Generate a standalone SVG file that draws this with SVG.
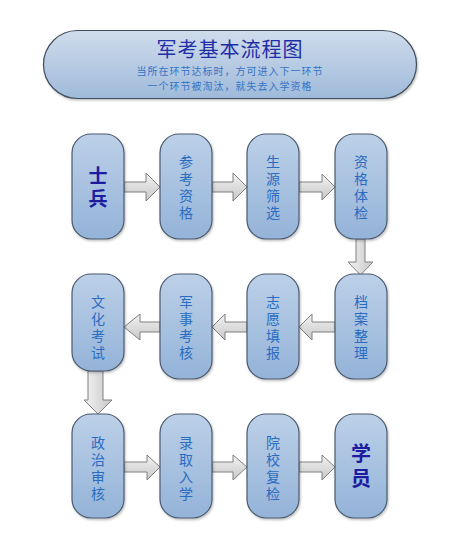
<svg xmlns="http://www.w3.org/2000/svg" width="460" height="535" viewBox="0 0 460 535">
<defs>
<linearGradient id="gBanner" x1="0" y1="0" x2="0" y2="1">
<stop offset="0" stop-color="#cfdcec"/>
<stop offset="1" stop-color="#9fbada"/>
</linearGradient>
<linearGradient id="gBox" x1="0" y1="0" x2="0" y2="1">
<stop offset="0" stop-color="#bcd0e8"/>
<stop offset="1" stop-color="#94b3d8"/>
</linearGradient>
<linearGradient id="gArrH" x1="0" y1="0" x2="0" y2="1">
<stop offset="0" stop-color="#f2f2f2"/>
<stop offset="1" stop-color="#c8c8c8"/>
</linearGradient>
<linearGradient id="gArrV" x1="0" y1="0" x2="1" y2="0">
<stop offset="0" stop-color="#f2f2f2"/>
<stop offset="1" stop-color="#c8c8c8"/>
</linearGradient>
<filter id="sh" x="-20%" y="-20%" width="140%" height="140%">
<feDropShadow dx="1" dy="1.5" stdDeviation="1.2" flood-color="#000" flood-opacity="0.25"/>
</filter>
</defs>
<style>
.box{fill:url(#gBox);stroke:#4b5a6e;stroke-width:1.2;filter:url(#sh)}
.t{font-family:"Noto Sans CJK SC","Noto Sans",sans-serif;font-size:14px;fill:#2a6cc0;text-anchor:middle;writing-mode:vertical-rl;letter-spacing:3px}
.big{font-family:"Noto Sans CJK SC","Noto Sans",sans-serif;font-weight:bold;fill:#1c1ca0;text-anchor:middle;writing-mode:vertical-rl}
.sub{font-family:"Noto Sans CJK SC","Noto Sans",sans-serif;font-size:10px;fill:#3474c4;text-anchor:middle;letter-spacing:1px}
.ah{fill:url(#gArrH);stroke:#7f7f7f;stroke-width:1}
.av{fill:url(#gArrV);stroke:#7f7f7f;stroke-width:1}
</style>
<rect width="460" height="535" fill="#ffffff"/>

<g id="banner">
<rect x="43.5" y="30.5" width="373" height="68" rx="34" ry="34" fill="url(#gBanner)" stroke="#3f4b5b" stroke-width="1.2" filter="url(#sh)"/>
<text x="230" y="57" font-family="&quot;Noto Sans CJK SC&quot;,sans-serif" font-size="20" letter-spacing="1" fill="#1f2ea6" text-anchor="middle">军考基本流程图</text>
<text class="sub" x="230" y="75">当所在环节达标时，方可进入下一环节</text>
<text class="sub" x="230" y="90">一个环节被淘汰，就失去入学资格</text>
</g>

<g id="connectors">
<path class="ah" d="M124,182 H146 V173 L160,187 L146,201 V192 H124 Z"/>
<path class="ah" d="M212,182 H233 V173 L247,187 L233,201 V192 H212 Z"/>
<path class="ah" d="M299,182 H322 V174 L335,187 L322,200 V192 H299 Z"/>
<path class="av" d="M356,239 V262 H348 L360.5,275 L373,262 H365 V239 Z"/>
<path class="ah" d="M335,322 H312 V314 L299,327 L312,340 V332 H335 Z"/>
<path class="ah" d="M247,322 H225 V314 L212,327 L225,340 V332 H247 Z"/>
<path class="ah" d="M160,322 H140 V314 L124,327 L140,340 V332 H160 Z"/>
<path class="av" d="M88,371 V400 H84 L98,414 L112,400 H103 V371 Z"/>
<path class="ah" d="M124,462 H147 V455 L160,467 L147,480 V472 H124 Z"/>
<path class="ah" d="M212,462 H233 V455 L247,467 L233,480 V472 H212 Z"/>
<path class="ah" d="M299,462 H322 V455 L335,467 L322,480 V472 H299 Z"/>
</g>

<g id="n1"><rect class="box" x="72" y="134" width="52" height="105" rx="19"/>
<text class="big" font-size="19" letter-spacing="4" x="98" y="189">士兵</text></g>
<g id="n2"><rect class="box" x="160" y="134" width="52" height="105" rx="19"/>
<text class="t" x="186" y="189">参考资格</text></g>
<g id="n3"><rect class="box" x="247" y="134" width="52" height="105" rx="19"/>
<text class="t" x="273" y="189">生源筛选</text></g>
<g id="n4"><rect class="box" x="335" y="134" width="52" height="105" rx="19"/>
<text class="t" x="361" y="189">资格体检</text></g>

<g id="n5"><rect class="box" x="335" y="274" width="52" height="105" rx="19"/>
<text class="t" x="361" y="329">档案整理</text></g>
<g id="n6"><rect class="box" x="247" y="274" width="52" height="105" rx="19"/>
<text class="t" x="273" y="329">志愿填报</text></g>
<g id="n7"><rect class="box" x="160" y="274" width="52" height="105" rx="19"/>
<text class="t" x="186" y="329">军事考核</text></g>
<g id="n8"><rect class="box" x="72" y="274" width="52" height="97" rx="19"/>
<text class="t" x="98" y="329">文化考试</text></g>

<g id="n9"><rect class="box" x="72" y="414" width="52" height="104" rx="19"/>
<text class="t" x="98" y="470">政治审核</text></g>
<g id="n10"><rect class="box" x="160" y="414" width="52" height="104" rx="19"/>
<text class="t" x="186" y="470">录取入学</text></g>
<g id="n11"><rect class="box" x="247" y="414" width="52" height="104" rx="19"/>
<text class="t" x="273" y="470">院校复检</text></g>
<g id="n12"><rect class="box" x="335" y="414" width="52" height="104" rx="19"/>
<text class="big" font-size="20" letter-spacing="5" x="361" y="468">学员</text></g>
</svg>
